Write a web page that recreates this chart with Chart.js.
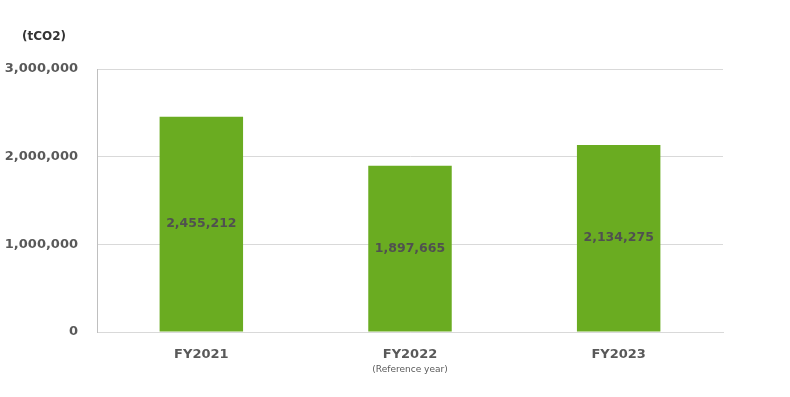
<!DOCTYPE html>
<html>
<head>
<meta charset="utf-8">
<script src="https://cdn.jsdelivr.net/npm/chart.js@4.4.1/dist/chart.umd.min.js"></script>
<style>
  html, body { margin: 0; padding: 0; background: #fff; }
  #wrap { width: 790px; height: 397px; }
</style>
</head>
<body>
<div id="wrap"><canvas id="emissionChart"></canvas></div>
<script>
// Chart data
const years = ['FY2021', 'FY2022', 'FY2023'];
const yearNotes = ['', '(Reference year)', ''];
const emissions = [2455212, 1897665, 2134275];
const yTicks = [0, 1000000, 2000000, 3000000];
const unitLabel = '(tCO2)';

const FONT = '"DejaVu Sans", Verdana, sans-serif';
const TEXT_GRAY = '#595959';

const fmt = v => Number(v).toLocaleString('en-US');

// Value labels inside the bars + notes under the category labels + unit title
const extraText = {
    id: 'extraText',
    afterDatasetsDraw(chart) {
        const ctx = chart.ctx;
        const meta = chart.getDatasetMeta(0);
        ctx.save();
        ctx.fillStyle = '#505050';
        ctx.textAlign = 'center';
        ctx.textBaseline = 'middle';
        ctx.font = 'bold 12.5px ' + FONT;
        meta.data.forEach((bar, i) => {
            const mid = (bar.y + bar.base) / 2;
            ctx.fillText(fmt(emissions[i]), bar.x, mid);
        });

        // notes under x labels
        const xScale = chart.scales.x;
        ctx.fillStyle = TEXT_GRAY;
        ctx.font = '9px ' + FONT;
        yearNotes.forEach((note, i) => {
            if (!note) return;
            ctx.fillText(note, xScale.getPixelForValue(i), 370);
        });

        // unit label
        ctx.fillStyle = '#333333';
        ctx.textAlign = 'left';
        ctx.font = 'bold 12px ' + FONT;
        ctx.fillText(unitLabel, 22, 37);
        ctx.restore();
    }
};

new Chart(document.getElementById('emissionChart'), {
    type: 'bar',
    data: {
        labels: years,
        datasets: [{
            data: emissions,
            backgroundColor: '#6aac21',
            borderWidth: 0,
            barPercentage: 0.4,
            categoryPercentage: 1.0
        }]
    },
    options: {
        responsive: true,
        maintainAspectRatio: false,
        animation: false,
        layout: {
            padding: { top: 69, right: 67, bottom: 0, left: 0 }
        },
        plugins: {
            legend: { display: false },
            tooltip: { enabled: false }
        },
        scales: {
            x: {
                grid: { display: false },
                border: { display: true, color: '#d9d9d9' },
                ticks: {
                    color: TEXT_GRAY,
                    font: { family: FONT, size: 13, weight: 'bold' },
                    padding: 7
                },
                afterFit(scale) { scale.height = 65; }
            },
            y: {
                min: 0,
                max: 3000000,
                afterBuildTicks(scale) {
                    scale.ticks = yTicks.map(v => ({ value: v }));
                },
                grid: { color: '#d9d9d9', drawTicks: false },
                border: { display: true, color: '#bfbfbf' },
                ticks: {
                    color: TEXT_GRAY,
                    font: { family: FONT, size: 13, weight: 'bold' },
                    padding: 19,
                    callback: v => fmt(v)
                },
                afterFit(scale) { scale.width = 97; }
            }
        }
    },
    plugins: [extraText]
});
</script>
</body>
</html>
